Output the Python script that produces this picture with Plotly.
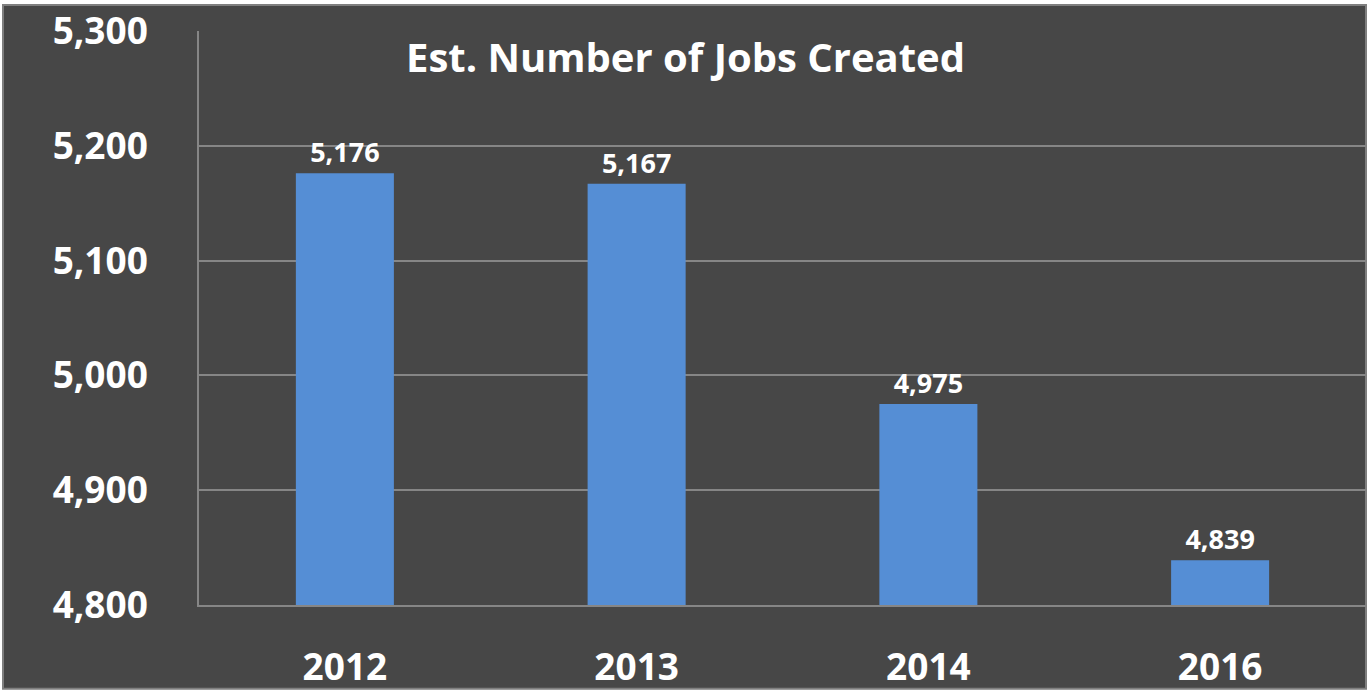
import plotly.graph_objects as go

categories = ["2012", "2013", "2014", "2016"]
jobs_created = [5176, 5167, 4975, 4839]
y_ticks = [4800, 4900, 5000, 5100, 5200, 5300]
title_text = "Est. Number of Jobs Created"

BG = "#474747"
GRID = "#868686"
BAR = "#558ED5"
FONT = "Open Sans"

fig = go.Figure()
fig.add_trace(go.Bar(
    x=categories,
    y=jobs_created,
    marker=dict(color=BAR, line=dict(width=0)),
    text=[f"{v:,}" for v in jobs_created],
    textposition="outside",
    textfont=dict(family=FONT, size=27, color="white", weight="bold"),
    cliponaxis=False,
    width=0.336,
))

W, H = 1370, 695
L, R, T, B = 199, 4, 31, 88
pw = W - L - R
ph = H - T - B

def px(x):
    return (x - L) / pw

def py(y):
    return (H - B - y) / ph

fig.update_layout(
    width=W, height=H,
    margin=dict(l=L, r=R, t=T, b=B, pad=0),
    paper_bgcolor="white",
    plot_bgcolor=BG,
    showlegend=False,
    xaxis=dict(
        showgrid=False,
        showline=True, linecolor=GRID, linewidth=1.5,
        ticks="",
        tickfont=dict(family=FONT, size=37, color="white", weight="bold"),
        ticklabelstandoff=29,
    ),
    yaxis=dict(
        range=[4800, 5300],
        tickvals=y_ticks,
        ticktext=[f"{v:,}" for v in y_ticks],
        showgrid=True, gridcolor=GRID, gridwidth=1.5,
        showline=True, linecolor=GRID, linewidth=1.5,
        zeroline=False,
        ticks="",
        tickfont=dict(family=FONT, size=37, color="white", weight="bold"),
        ticklabelstandoff=42,
    ),
    shapes=[dict(
        type="rect", xref="paper", yref="paper",
        x0=px(3), x1=px(1366), y0=py(691), y1=py(5),
        fillcolor=BG, line=dict(color="#7f7f7f", width=2),
        layer="below",
    )],
    annotations=[dict(
        text=title_text, xref="paper", yref="paper",
        x=px(685), y=py(57), xanchor="center", yanchor="middle",
        showarrow=False,
        font=dict(family=FONT, size=40, color="white", weight="bold"),
    )],
)

fig.write_html(
    "out.html",
    config={"displayModeBar": False},
    post_script="document.body.style.margin='0';document.body.style.overflow='hidden';",
)
